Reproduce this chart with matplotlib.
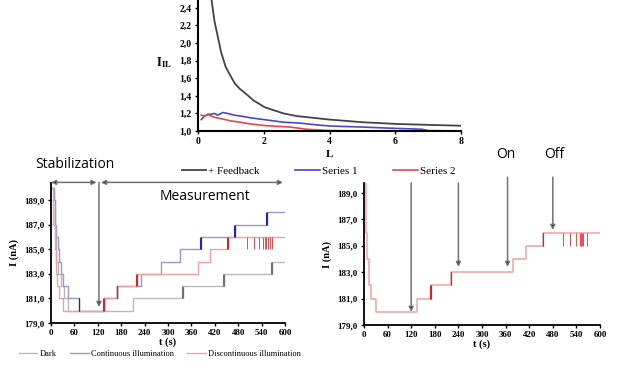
import numpy as np
import matplotlib
matplotlib.use("Agg")
from matplotlib import pyplot as plt
from matplotlib.ticker import FuncFormatter

plt.rcParams["font.family"] = ["Liberation Serif", "DejaVu Serif"]
plt.rcParams["mathtext.fontset"] = "stix"

# top chart: I_IL vs L
L_fb = [0.35, 0.41, 0.5, 0.61, 0.7, 0.84, 1.0, 1.12, 1.27, 1.5, 1.68, 2.03, 2.6, 3.0, 3.5, 4.0, 5.0, 6.05, 7.0, 8.0]
feedback = [2.75, 2.5, 2.25, 2.06, 1.9, 1.73, 1.62, 1.54, 1.48, 1.41, 1.35, 1.27, 1.2, 1.17, 1.15, 1.13, 1.10, 1.08, 1.07, 1.06]
L_s1 = [0.1, 0.2, 0.3, 0.4, 0.5, 0.6, 0.75, 0.9, 1.1, 1.3, 1.6, 2.1, 2.6, 3.1, 3.6, 4.0, 5.0, 6.0, 6.8, 7.0, 8.0]
series1 = [1.13, 1.17, 1.19, 1.19, 1.2, 1.18, 1.21, 1.2, 1.18, 1.17, 1.15, 1.125, 1.1, 1.09, 1.07, 1.057, 1.045, 1.03, 1.02, 1.005, 1.0]
L_s2 = [0.1, 0.2, 0.31, 0.4, 0.51, 0.77, 1.0, 1.28, 1.6, 2.09, 2.8, 3.3, 4.0, 5.0]
series2 = [1.18, 1.17, 1.19, 1.17, 1.155, 1.135, 1.115, 1.10, 1.08, 1.06, 1.045, 1.02, 1.005, 1.0]

# bottom left: three illumination conditions
dark_t = [0, 8, 11, 14, 18, 26, 33, 43, 209, 339, 444, 566, 600]
dark_i = [190, 189, 186, 184, 183, 182, 181, 180, 181, 182, 183, 184, 184]
cont_t = [0, 8, 11, 14, 17, 20, 25, 32, 44, 73, 136, 170, 232, 281, 331, 385, 472, 553, 600]
cont_i = [190, 189, 187, 186, 185, 184, 183, 182, 181, 180, 181, 182, 183, 184, 185, 186, 187, 188, 188]
disc_t = [0, 6, 9, 12, 16, 20, 30, 136, 170, 221, 378, 409, 453, 600]
disc_i = [190, 187, 185, 183, 182, 181, 180, 181, 182, 183, 184, 185, 186, 186]
dark_flicker = [339, 444, 566]
cont_flicker = [73, 170, 385, 472, 553]
disc_flicker = [136, 170, 221, 453]
disc_spikes = [503, 521, 534, 544, 549, 552, 556, 561, 566]

# bottom right: discontinuous illumination
right_t = [0, 4, 8, 13, 19, 30, 136, 171, 222, 379, 411, 456, 600]
right_i = [190, 186, 184, 182, 181, 180, 181, 182, 183, 184, 185, 186, 186]
right_flicker = [171, 222, 456]
right_spikes = [505, 524, 539, 549, 552, 555, 558, 566]

t_ticks = [0, 60, 120, 180, 240, 300, 360, 420, 480, 540, 600]
i_ticks = [179, 181, 183, 185, 187, 189]

comma1 = FuncFormatter(lambda v, p: f"{v:.1f}".replace(".", ","))


def level_at(t, i, x):
    k = np.searchsorted(t, x, side="right") - 1
    return i[max(k, 0)]


def draw_flicker(ax, t, i, times, color):
    # signal jumps back and forth a couple of times at these steps
    for ft in times:
        lo = level_at(t, i, ft - 0.5)
        hi = level_at(t, i, ft + 0.5)
        ax.vlines([ft - 2, ft], min(lo, hi), max(lo, hi), color=color, lw=0.8)


def draw_spikes(ax, t, i, times, color):
    for st in times:
        lvl = level_at(t, i, st)
        ax.vlines(st, lvl - 1, lvl, color=color, lw=0.6)


def style_bottom(ax, ytop):
    ax.set_xlim(0, 600)
    ax.set_ylim(179, ytop)
    ax.set_xticks(t_ticks)
    ax.set_yticks(i_ticks)
    ax.yaxis.set_major_formatter(comma1)
    ax.spines["top"].set_visible(False)
    ax.spines["right"].set_visible(False)
    for s in ["left", "bottom"]:
        ax.spines[s].set_linewidth(1.3)
    ax.tick_params(direction="out", length=2.5, width=1, labelsize=6.5, pad=2)
    for lab in ax.get_xticklabels() + ax.get_yticklabels():
        lab.set_fontweight("bold")
    ax.set_xlabel("t (s)", fontsize=7.5, fontweight="bold", labelpad=0)
    ax.set_ylabel("I (nA)", fontsize=7.5, fontweight="bold", labelpad=4)


def arrow(ax, x0, y0, x1, y1, style="-|>"):
    ax.annotate("", xy=(x1, y1), xytext=(x0, y0), annotation_clip=False,
                arrowprops=dict(arrowstyle=style, ec="0.45", fc="k", lw=1.1,
                                mutation_scale=7, shrinkA=0, shrinkB=0))


fig = plt.figure(figsize=(6.28, 3.68), dpi=100)

# ---- top
ax1 = fig.add_axes([0.3153, 0.644, 0.4188, 0.356])
ax1.plot(L_fb, feedback, color="#444444", lw=1.3, label="+ Feedback")
ax1.plot(L_s1, series1, color="#4848c8", lw=1.2, label="Series 1")
ax1.plot(L_s2, series2, color="#e04848", lw=1.2, label="Series 2")
ax1.set_xlim(0, 8)
ax1.set_ylim(1.0, 2.49)
ax1.set_xticks([0, 2, 4, 6, 8])
ax1.set_yticks([1.0, 1.2, 1.4, 1.6, 1.8, 2.0, 2.2, 2.4])
ax1.yaxis.set_major_formatter(comma1)
ax1.spines["top"].set_visible(False)
ax1.spines["right"].set_visible(False)
ax1.spines["left"].set_linewidth(1.5)
ax1.spines["bottom"].set_linewidth(1.5)
ax1.tick_params(direction="out", length=2.5, width=1, labelsize=7, pad=2)
for lab in ax1.get_xticklabels() + ax1.get_yticklabels():
    lab.set_fontweight("bold")
ax1.set_xlabel("L", fontsize=8, fontweight="bold", labelpad=3)
ax1.set_ylabel(r"$\mathbf{I_{IL}}$", fontsize=9, rotation=0, labelpad=10, va="center")
ax1.yaxis.set_label_coords(-0.13, 0.52)
h, l = ax1.get_legend_handles_labels()
fig.legend(h, l, loc="center", bbox_to_anchor=(0.507, 0.535), ncol=3, frameon=False,
           fontsize=8, handlelength=2.2, handletextpad=0.2, columnspacing=3.2)

# ---- bottom left
ax2 = fig.add_axes([0.0812, 0.1223, 0.3726, 0.3804])
ax2.step(dark_t, dark_i, where="post", color="#b8b8b8", lw=1.0, label="Dark")
ax2.step(cont_t, cont_i, where="post", color="#9898d8", lw=1.0, label="Continuous illumination")
ax2.step(disc_t, disc_i, where="post", color="#f0a0a0", lw=1.0, label="Discontinuous illumination")
draw_flicker(ax2, dark_t, dark_i, dark_flicker, "#707070")
draw_flicker(ax2, cont_t, cont_i, cont_flicker, "#2525b0")
draw_flicker(ax2, disc_t, disc_i, disc_flicker, "#e02020")
draw_spikes(ax2, disc_t, disc_i, disc_spikes, "#e03030")
style_bottom(ax2, 190.4)
ax2.legend(loc="center", bbox_to_anchor=(0.255, 0.038), bbox_transform=fig.transFigure,
           ncol=3, frameon=False, fontsize=6, handlelength=2.2, handletextpad=0.3,
           columnspacing=1.6)
arrow(ax2, 0, 190.45, 117, 190.45, "<|-|>")
arrow(ax2, 128, 190.45, 595, 190.45, "<|-|>")
arrow(ax2, 123, 190.45, 123, 180.3)
fig.text(0.119, 0.552, "Stabilization", family="Open Sans", fontsize=10, ha="center", va="center")
fig.text(0.326, 0.465, "Measurement", family="Open Sans", fontsize=10, ha="center", va="center")

# ---- bottom right
ax3 = fig.add_axes([0.5796, 0.1168, 0.3758, 0.3859])
ax3.step(right_t, right_i, where="post", color="#f4a0a0", lw=1.1)
draw_flicker(ax3, right_t, right_i, right_flicker, "#e02020")
draw_spikes(ax3, right_t, right_i, right_spikes, "#e03030")
style_bottom(ax3, 189.76)
arrow(ax3, 120, 189.76, 120, 180.0)
arrow(ax3, 240, 189.76, 240, 183.4)
arrow(ax3, 365, 190.2, 365, 183.4)
arrow(ax3, 480, 190.2, 480, 186.2)
fig.text(0.806, 0.579, "On", family="Open Sans", fontsize=10, ha="center", va="center")
fig.text(0.882, 0.579, "Off", family="Open Sans", fontsize=10, ha="center", va="center")

fig.savefig("out.png", dpi=100)
